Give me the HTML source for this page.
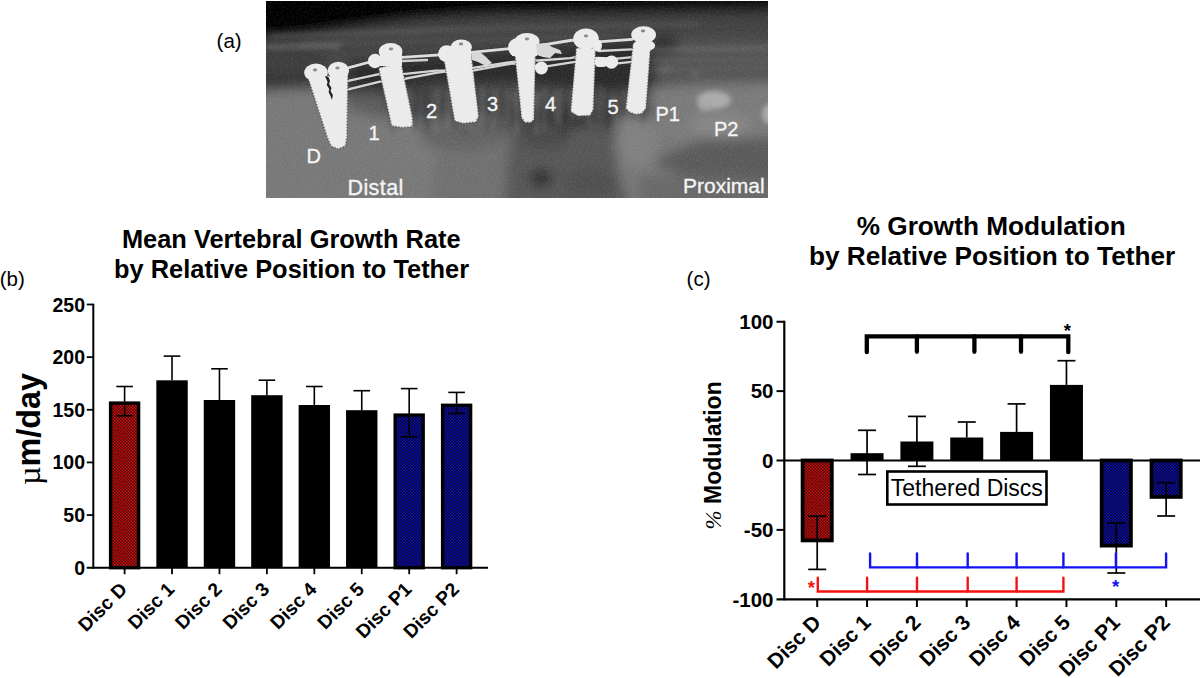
<!DOCTYPE html>
<html><head><meta charset="utf-8"><title>Figure</title>
<style>
html,body{margin:0;padding:0;background:#fff;}
body{width:1200px;height:678px;overflow:hidden;position:relative;font-family:"Liberation Sans", sans-serif;}
svg{position:absolute;left:0;top:0;}
text{font-family:"Liberation Sans", sans-serif;}
</style></head><body>
<svg width="1200" height="678" viewBox="0 0 1200 678">
<defs>
<pattern id="patR" width="3" height="3" patternUnits="userSpaceOnUse"><rect width="3" height="3" fill="rgb(70,4,4)"/><rect width="1.5" height="1.5" fill="rgb(205,18,18)"/><rect x="1.5" y="1.5" width="1.5" height="1.5" fill="rgb(205,18,18)"/></pattern>
<pattern id="patB" width="3" height="3" patternUnits="userSpaceOnUse"><rect width="3" height="3" fill="rgb(2,2,28)"/><rect width="1.5" height="1.5" fill="rgb(16,16,195)"/><rect x="1.5" y="1.5" width="1.5" height="1.5" fill="rgb(16,16,195)"/></pattern>
</defs>

<clipPath id="xclip"><rect x="266" y="1" width="502" height="197"/></clipPath>
<filter id="xb1" x="-10%" y="-10%" width="120%" height="120%"><feGaussianBlur stdDeviation="6"/></filter>
<filter id="xb2" x="-20%" y="-20%" width="140%" height="140%"><feGaussianBlur stdDeviation="2.5"/></filter>
<filter id="xb0" x="-20%" y="-20%" width="140%" height="140%"><feGaussianBlur stdDeviation="0.5"/></filter>
<filter id="xn" x="0" y="0" width="100%" height="100%"><feTurbulence type="fractalNoise" baseFrequency="0.6" numOctaves="2" seed="3" result="n"/><feColorMatrix type="matrix" values="0 0 0 0 1  0 0 0 0 1  0 0 0 0 1  1 0 0 0 -0.45"/></filter>
<g clip-path="url(#xclip)">
<rect x="266" y="1" width="502" height="197" fill="rgb(118,118,118)"/>
<g filter="url(#xb1)">
<polygon points="240,-20 800,-20 800,72 760,72 700,80 660,86 650,120 600,122 560,128 500,124 440,122 420,120 400,110 350,100 310,90 240,90" fill="rgb(68,68,68)" opacity="1"/>
<polygon points="240,26 330,24 420,18 500,16 600,14 700,14 800,14 800,50 700,48 600,40 500,38 420,44 350,50 300,50 240,52" fill="rgb(66,66,66)" opacity="1"/>
<polygon points="348,62 640,40 660,60 655,88 600,92 520,84 440,84 380,92 348,92" fill="rgb(42,42,42)" opacity="1"/>
<polygon points="380,92 440,84 520,84 600,92 655,88 655,120 600,126 560,130 500,126 445,124 420,122 395,112" fill="rgb(74,74,74)" opacity="1"/>
<ellipse cx="605" cy="108" rx="22" ry="14" fill="rgb(56,56,56)" opacity="1"/>
<polygon points="500,100 560,98 630,100 632,125 600,136 550,140 505,136" fill="rgb(66,66,66)" opacity="1"/>
<ellipse cx="590" cy="118" rx="26" ry="12" fill="rgb(55,55,55)" opacity="1"/>
<polygon points="525,112 620,110 625,132 580,138 530,134" fill="rgb(52,52,52)" opacity="1"/>
<polygon points="240,-20 800,-20 800,14 700,14 600,16 500,16 420,20 350,28 300,35 240,38" fill="rgb(36,36,36)" opacity="1"/>
<polygon points="240,-20 800,-20 800,5 700,7 600,9 480,12 400,19 340,29 300,35 240,39" fill="rgb(3,3,3)" opacity="1"/>
<polygon points="240,44 300,44 330,55 312,88 240,92" fill="rgb(60,60,60)" opacity="1"/>
<polygon points="240,74 310,74 312,92 240,94" fill="rgb(52,52,52)" opacity="1"/>
<polygon points="348,92 380,92 392,115 390,128 350,128" fill="rgb(92,92,92)" opacity="1"/>
<polygon points="240,92 312,88 345,110 400,122 440,126 500,128 510,160 500,210 240,210" fill="rgb(120,120,120)" opacity="1"/>
<polygon points="440,126 510,130 515,210 430,210" fill="rgb(112,112,112)" opacity="1"/>
<polygon points="415,118 500,116 508,142 470,150 425,146" fill="rgb(100,100,100)" opacity="1"/>
<polygon points="512,126 570,128 615,128 625,150 615,165 630,210 505,210 508,160" fill="rgb(86,86,86)" opacity="1"/>
<ellipse cx="545" cy="136" rx="26" ry="13" fill="rgb(74,74,74)" opacity="1"/>
<ellipse cx="541" cy="178" rx="11" ry="9" fill="rgb(42,42,42)" opacity="1"/>
<ellipse cx="590" cy="182" rx="28" ry="14" fill="rgb(80,80,80)" opacity="1"/>
<polygon points="618,118 650,118 660,140 650,170 625,165 615,150" fill="rgb(128,128,128)" opacity="1"/>
<polygon points="655,40 800,40 800,82 700,84 655,88" fill="rgb(82,82,82)" opacity="1"/>
<polygon points="650,88 700,84 800,82 800,140 760,140 700,140 655,140" fill="rgb(122,122,122)" opacity="1"/>
<ellipse cx="720" cy="125" rx="30" ry="12" fill="rgb(134,134,134)" opacity="1"/>
<ellipse cx="664" cy="44" rx="14" ry="11" fill="rgb(50,50,50)" opacity="1"/>
<polygon points="652,162 700,140 800,136 800,180 740,180 690,178" fill="rgb(90,90,90)" opacity="1"/>
<polygon points="640,176 690,176 800,178 800,210 640,210" fill="rgb(104,104,104)" opacity="1"/>
</g>
<g filter="url(#xb2)">
<ellipse cx="714" cy="100" rx="17" ry="9" fill="rgb(172,172,172)" opacity="1"/>
<ellipse cx="706" cy="106" rx="8" ry="5" fill="rgb(165,165,165)" opacity="1"/>
<ellipse cx="770" cy="114" rx="8" ry="10" fill="rgb(170,170,170)" opacity="1"/>
<ellipse cx="666" cy="70" rx="6" ry="5" fill="rgb(100,100,100)" opacity="0.6"/>
<ellipse cx="695" cy="74" rx="5" ry="4" fill="rgb(105,105,105)" opacity="0.6"/>
</g>
<g filter="url(#xb2)" opacity="0.6">
<line x1="270" y1="36" x2="520" y2="28" stroke="rgb(110,110,110)" stroke-width="3"/>
<line x1="300" y1="44" x2="620" y2="36" stroke="rgb(100,100,100)" stroke-width="2"/>
<line x1="420" y1="30" x2="700" y2="24" stroke="rgb(95,95,95)" stroke-width="3"/>
<line x1="266" y1="47" x2="340" y2="46" stroke="rgb(125,125,125)" stroke-width="4"/>
<line x1="640" y1="50" x2="768" y2="48" stroke="rgb(120,120,120)" stroke-width="3"/>
<line x1="640" y1="60" x2="768" y2="60" stroke="rgb(110,110,110)" stroke-width="2"/>
<line x1="640" y1="70" x2="768" y2="68" stroke="rgb(115,115,115)" stroke-width="2"/>
</g>
<g filter="url(#xb2)" opacity="0.5">
<line x1="390.5" y1="92.4" x2="392.5" y2="131.9" stroke="rgb(40,40,40)" stroke-width="2"/>
<line x1="397.6" y1="87.5" x2="395.3" y2="120.8" stroke="rgb(40,40,40)" stroke-width="2"/>
<line x1="402.9" y1="87.5" x2="400.0" y2="128.2" stroke="rgb(40,40,40)" stroke-width="2"/>
<line x1="408.4" y1="87.8" x2="406.3" y2="133.7" stroke="rgb(140,140,140)" stroke-width="2"/>
<line x1="417.2" y1="86.4" x2="415.0" y2="129.3" stroke="rgb(40,40,40)" stroke-width="2"/>
<line x1="424.4" y1="85.1" x2="426.6" y2="131.6" stroke="rgb(40,40,40)" stroke-width="2"/>
<line x1="428.2" y1="94.6" x2="426.2" y2="128.1" stroke="rgb(40,40,40)" stroke-width="2"/>
<line x1="437.4" y1="87.0" x2="436.2" y2="134.5" stroke="rgb(140,140,140)" stroke-width="2"/>
<line x1="441.4" y1="86.7" x2="440.4" y2="122.2" stroke="rgb(40,40,40)" stroke-width="2"/>
<line x1="449.8" y1="90.9" x2="447.2" y2="128.9" stroke="rgb(140,140,140)" stroke-width="2"/>
<line x1="454.4" y1="88.1" x2="454.3" y2="130.4" stroke="rgb(40,40,40)" stroke-width="2"/>
<line x1="462.3" y1="85.6" x2="465.0" y2="134.6" stroke="rgb(40,40,40)" stroke-width="2"/>
<line x1="467.4" y1="89.0" x2="466.6" y2="128.2" stroke="rgb(140,140,140)" stroke-width="2"/>
<line x1="474.8" y1="85.1" x2="475.6" y2="120.7" stroke="rgb(40,40,40)" stroke-width="2"/>
<line x1="482.8" y1="86.2" x2="481.9" y2="123.7" stroke="rgb(140,140,140)" stroke-width="2"/>
<line x1="486.9" y1="90.2" x2="487.5" y2="131.6" stroke="rgb(40,40,40)" stroke-width="2"/>
<line x1="495.1" y1="88.7" x2="497.8" y2="124.4" stroke="rgb(140,140,140)" stroke-width="2"/>
<line x1="498.9" y1="88.4" x2="497.9" y2="129.2" stroke="rgb(40,40,40)" stroke-width="2"/>
<line x1="508.7" y1="90.5" x2="507.5" y2="124.7" stroke="rgb(140,140,140)" stroke-width="2"/>
<line x1="514.7" y1="91.3" x2="517.7" y2="130.8" stroke="rgb(140,140,140)" stroke-width="2"/>
<line x1="518.6" y1="85.5" x2="515.8" y2="134.8" stroke="rgb(140,140,140)" stroke-width="2"/>
<line x1="527.5" y1="88.4" x2="525.3" y2="123.8" stroke="rgb(140,140,140)" stroke-width="2"/>
<line x1="534.9" y1="91.4" x2="536.9" y2="132.0" stroke="rgb(140,140,140)" stroke-width="2"/>
<line x1="538.0" y1="92.3" x2="535.7" y2="134.2" stroke="rgb(140,140,140)" stroke-width="2"/>
<line x1="545.7" y1="86.5" x2="543.6" y2="132.7" stroke="rgb(140,140,140)" stroke-width="2"/>
<line x1="554.2" y1="91.2" x2="556.9" y2="122.5" stroke="rgb(140,140,140)" stroke-width="2"/>
<line x1="559.8" y1="88.2" x2="559.2" y2="124.1" stroke="rgb(140,140,140)" stroke-width="2"/>
<line x1="564.1" y1="88.8" x2="564.8" y2="134.8" stroke="rgb(40,40,40)" stroke-width="2"/>
<line x1="572.0" y1="88.4" x2="572.1" y2="121.3" stroke="rgb(140,140,140)" stroke-width="2"/>
<line x1="578.7" y1="90.0" x2="579.9" y2="120.9" stroke="rgb(140,140,140)" stroke-width="2"/>
<line x1="585.7" y1="92.6" x2="587.7" y2="125.5" stroke="rgb(140,140,140)" stroke-width="2"/>
<line x1="590.6" y1="94.8" x2="591.5" y2="130.7" stroke="rgb(140,140,140)" stroke-width="2"/>
<line x1="598.3" y1="85.1" x2="597.3" y2="128.2" stroke="rgb(140,140,140)" stroke-width="2"/>
<line x1="603.6" y1="87.9" x2="602.7" y2="127.5" stroke="rgb(140,140,140)" stroke-width="2"/>
<line x1="611.6" y1="92.4" x2="614.1" y2="132.4" stroke="rgb(140,140,140)" stroke-width="2"/>
<line x1="616.2" y1="93.7" x2="618.9" y2="126.7" stroke="rgb(140,140,140)" stroke-width="2"/>
<line x1="624.1" y1="90.3" x2="626.7" y2="122.5" stroke="rgb(140,140,140)" stroke-width="2"/>
<line x1="630.4" y1="91.9" x2="628.4" y2="130.8" stroke="rgb(140,140,140)" stroke-width="2"/>
<line x1="638.1" y1="90.8" x2="636.9" y2="130.0" stroke="rgb(140,140,140)" stroke-width="2"/>
<line x1="643.7" y1="93.7" x2="641.9" y2="124.1" stroke="rgb(40,40,40)" stroke-width="2"/>
</g>
<path d="M349,67.7 L368,62.5 L402,57.4 L436,55.2 L471,52.3 L509.7,48.6 L539,45.7 L570,40.5 L574,40.1 L601,41.7 L632,39.4" stroke="#dedede" stroke-width="2.8" fill="none" stroke-linecap="round" stroke-linejoin="round"/>
<path d="M344.7,81.7 L377.9,74.3 L400.7,74.3 L436,70.7 L444.8,70.7 L472.8,70.7 L512.6,63.4 L546.5,66.3 L570,62.6 L575.5,61.8 L617.3,63.4 L632,61.8" stroke="#d4d4d4" stroke-width="2.3" fill="none" stroke-linecap="round" stroke-linejoin="round"/>
<path d="M346.2,89.8 L380,81.7 L400.7,79.5 L436,72.9 L472.8,67.8 L512.6,61.9 L546,60 L570,58.2 L575.5,57.2 L617.3,58.7 L632,57.2" stroke="#d4d4d4" stroke-width="2.3" fill="none" stroke-linecap="round" stroke-linejoin="round"/>
<path d="M598.7,51 L632,49.4" stroke="#d4d4d4" stroke-width="2.3" fill="none" stroke-linecap="round" stroke-linejoin="round"/>
<path d="M402,61 L427,60" stroke="#cfcfcf" stroke-width="2.5" fill="none" stroke-linecap="round" stroke-linejoin="round"/>
<g filter="url(#xb0)">
<polygon points="308,78 327,76 348,74 347,137 345.4,146 338,149 331,146 327.5,138" fill="#ebebeb"/>
<polygon points="308,78 327,76 348,74 347,137 345.4,146 338,149 331,146 327.5,138" fill="none" stroke="rgb(70,70,70)" stroke-opacity="0.6" stroke-width="1.8" stroke-dasharray="1.4 1.6"/>
<ellipse cx="316" cy="72.5" rx="11.8" ry="9" fill="#ebebeb"/>
<ellipse cx="338.4" cy="70.6" rx="10.7" ry="8.9" fill="#ebebeb"/>
<path d="M325 76 L328.5 77 L330 81 L329 84 L331.5 88 L330.5 91 L332.8 95 L332 100 L330.5 96 L328.6 92 L329.3 89 L326.8 85 L327.6 82 Z" fill="#1e1e1e"/>
<polygon points="378.6,68 401,62 412.5,118 412.5,126.7 402,127.5 392,126 391.1,123.8" fill="#ebebeb"/>
<polygon points="378.6,68 401,62 412.5,118 412.5,126.7 402,127.5 392,126 391.1,123.8" fill="none" stroke="rgb(70,70,70)" stroke-opacity="0.6" stroke-width="1.8" stroke-dasharray="1.4 1.6"/>
<ellipse cx="390.6" cy="51.5" rx="11.8" ry="8.5" fill="#ebebeb"/>
<circle cx="375" cy="61" r="7.2" fill="#ebebeb"/>
<rect x="380" y="52" width="22" height="14" fill="#ebebeb"/>
<polygon points="444,60 471.3,54.5 478.7,116.5 476,122 463,123.5 455,121 454.3,119.4" fill="#ebebeb"/>
<polygon points="444,60 471.3,54.5 478.7,116.5 476,122 463,123.5 455,121 454.3,119.4" fill="none" stroke="rgb(70,70,70)" stroke-opacity="0.6" stroke-width="1.8" stroke-dasharray="1.4 1.6"/>
<ellipse cx="461.3" cy="47" rx="10.7" ry="7.6" fill="#ebebeb"/>
<circle cx="446.6" cy="53.8" r="8.5" fill="#ebebeb"/>
<rect x="446" y="46" width="25" height="14" fill="#ebebeb"/>
<path d="M471 53 L480 52 L486 57 L492 63 L486 66 L478 62 L472 60 Z" fill="#d8d8d8"/>
<polygon points="514.8,54 535.5,54 534,119.4 531,122.5 525,122.5 521.5,118" fill="#ebebeb"/>
<polygon points="514.8,54 535.5,54 534,119.4 531,122.5 525,122.5 521.5,118" fill="none" stroke="rgb(70,70,70)" stroke-opacity="0.6" stroke-width="1.8" stroke-dasharray="1.4 1.6"/>
<ellipse cx="527" cy="41.5" rx="12.5" ry="8.5" fill="#ebebeb"/>
<circle cx="517.5" cy="47.5" r="9.5" fill="#ebebeb"/>
<rect x="512" y="42" width="25" height="14" fill="#ebebeb"/>
<circle cx="541.4" cy="68" r="6.5" fill="#ebebeb"/>
<path d="M536 44 L546 43 L552 47 L560 50 L562 54 L555 53 L550 58 L543 57 L537 55 Z" fill="#d8d8d8"/>
<polygon points="576.3,48 595.6,48 593.3,109.8 590,115.5 578,116 571,112 570.8,109.8" fill="#ebebeb"/>
<polygon points="576.3,48 595.6,48 593.3,109.8 590,115.5 578,116 571,112 570.8,109.8" fill="none" stroke="rgb(70,70,70)" stroke-opacity="0.6" stroke-width="1.8" stroke-dasharray="1.4 1.6"/>
<ellipse cx="586" cy="39" rx="12.8" ry="10.5" fill="#ebebeb"/>
<ellipse cx="597.5" cy="45.5" rx="4.5" ry="6" fill="#ebebeb"/>
<circle cx="611.5" cy="62.2" r="6.6" fill="#ebebeb"/>
<rect x="595" y="57" width="12" height="10" rx="4" fill="#ebebeb"/>
<polygon points="632.8,46 650.6,46 646,108.3 642,113.5 635.9,114.5 629,112 625.8,108.3" fill="#ebebeb"/>
<polygon points="632.8,46 650.6,46 646,108.3 642,113.5 635.9,114.5 629,112 625.8,108.3" fill="none" stroke="rgb(70,70,70)" stroke-opacity="0.6" stroke-width="1.8" stroke-dasharray="1.4 1.6"/>
<ellipse cx="643.6" cy="34.7" rx="12.4" ry="8.5" fill="#ebebeb"/>
<ellipse cx="644" cy="45.5" rx="11.2" ry="6" fill="#ebebeb"/>
</g>
<rect x="266" y="1" width="502" height="197" filter="url(#xn)" opacity="0.22"/>
<ellipse cx="315" cy="70" rx="2.2" ry="1.4" fill="#8a8a8a"/>
<ellipse cx="337.5" cy="68" rx="2.2" ry="1.4" fill="#8a8a8a"/>
<ellipse cx="391" cy="49" rx="2.2" ry="1.4" fill="#8a8a8a"/>
<ellipse cx="461" cy="44" rx="2.2" ry="1.4" fill="#8a8a8a"/>
<ellipse cx="527" cy="39" rx="2.2" ry="1.4" fill="#8a8a8a"/>
<ellipse cx="586" cy="36" rx="2.2" ry="1.4" fill="#8a8a8a"/>
<ellipse cx="643" cy="31" rx="2.2" ry="1.4" fill="#8a8a8a"/>
</g>
<text x="306.5" y="163" font-size="20" fill="#f4f4f4" stroke="#f4f4f4" stroke-width="0.35" letter-spacing="0">D</text>
<text x="368.5" y="139.7" font-size="20" fill="#f4f4f4" stroke="#f4f4f4" stroke-width="0.35" letter-spacing="0">1</text>
<text x="426" y="117.5" font-size="20" fill="#f4f4f4" stroke="#f4f4f4" stroke-width="0.35" letter-spacing="0">2</text>
<text x="487" y="110.8" font-size="20" fill="#f4f4f4" stroke="#f4f4f4" stroke-width="0.35" letter-spacing="0">3</text>
<text x="545" y="110.8" font-size="20" fill="#f4f4f4" stroke="#f4f4f4" stroke-width="0.35" letter-spacing="0">4</text>
<text x="607.5" y="114" font-size="20" fill="#f4f4f4" stroke="#f4f4f4" stroke-width="0.35" letter-spacing="0">5</text>
<text x="655.5" y="120.8" font-size="20" fill="#f4f4f4" stroke="#f4f4f4" stroke-width="0.35" letter-spacing="0">P1</text>
<text x="714" y="135.7" font-size="20" fill="#f4f4f4" stroke="#f4f4f4" stroke-width="0.35" letter-spacing="0">P2</text>
<text x="347.5" y="194.8" font-size="21.5" fill="#f4f4f4" stroke="#f4f4f4" stroke-width="0.35" letter-spacing="0.4">Distal</text>
<text x="683" y="193.3" font-size="21" fill="#f4f4f4" stroke="#f4f4f4" stroke-width="0.35" letter-spacing="0">Proximal</text>
<text x="216.6" y="48" font-size="20.5" fill="#000">(a)</text>
<text x="-0.3" y="285.7" font-size="20.5" fill="#000">(b)</text>
<text x="686.6" y="285.5" font-size="20.5" fill="#000">(c)</text>
<text x="291.3" y="248" font-size="25.4" font-weight="bold" text-anchor="middle">Mean Vertebral Growth Rate</text>
<text x="291.6" y="278" font-size="25.4" font-weight="bold" text-anchor="middle">by Relative Position to Tether</text>
<rect x="110.60" y="403.10" width="28.00" height="164.60" fill="url(#patR)" stroke="#000" stroke-width="3.4"/>
<line x1="124.60" y1="386.50" x2="124.60" y2="401.40" stroke="#000" stroke-width="1.6"/>
<line x1="116.30" y1="386.50" x2="132.90" y2="386.50" stroke="#000" stroke-width="1.6"/>
<line x1="124.60" y1="401.40" x2="124.60" y2="415.80" stroke="#000" stroke-width="1.6"/>
<line x1="116.30" y1="415.80" x2="132.90" y2="415.80" stroke="#000" stroke-width="1.6"/>
<rect x="156.33" y="380.30" width="31.40" height="187.40" fill="#000"/>
<line x1="172.03" y1="356.10" x2="172.03" y2="380.30" stroke="#000" stroke-width="1.6"/>
<line x1="163.73" y1="356.10" x2="180.33" y2="356.10" stroke="#000" stroke-width="1.6"/>
<rect x="203.76" y="400.00" width="31.40" height="167.70" fill="#000"/>
<line x1="219.46" y1="368.80" x2="219.46" y2="400.00" stroke="#000" stroke-width="1.6"/>
<line x1="211.16" y1="368.80" x2="227.76" y2="368.80" stroke="#000" stroke-width="1.6"/>
<rect x="251.19" y="395.20" width="31.40" height="172.50" fill="#000"/>
<line x1="266.89" y1="380.20" x2="266.89" y2="395.20" stroke="#000" stroke-width="1.6"/>
<line x1="258.59" y1="380.20" x2="275.19" y2="380.20" stroke="#000" stroke-width="1.6"/>
<rect x="298.62" y="405.00" width="31.40" height="162.70" fill="#000"/>
<line x1="314.32" y1="386.50" x2="314.32" y2="405.00" stroke="#000" stroke-width="1.6"/>
<line x1="306.02" y1="386.50" x2="322.62" y2="386.50" stroke="#000" stroke-width="1.6"/>
<rect x="346.05" y="410.20" width="31.40" height="157.50" fill="#000"/>
<line x1="361.75" y1="390.70" x2="361.75" y2="410.20" stroke="#000" stroke-width="1.6"/>
<line x1="353.45" y1="390.70" x2="370.05" y2="390.70" stroke="#000" stroke-width="1.6"/>
<rect x="395.18" y="415.10" width="28.00" height="152.60" fill="url(#patB)" stroke="#000" stroke-width="3.4"/>
<line x1="409.18" y1="388.60" x2="409.18" y2="413.40" stroke="#000" stroke-width="1.6"/>
<line x1="400.88" y1="388.60" x2="417.48" y2="388.60" stroke="#000" stroke-width="1.6"/>
<line x1="409.18" y1="413.40" x2="409.18" y2="436.80" stroke="#000" stroke-width="1.6"/>
<line x1="400.88" y1="436.80" x2="417.48" y2="436.80" stroke="#000" stroke-width="1.6"/>
<rect x="442.61" y="405.30" width="28.00" height="162.40" fill="url(#patB)" stroke="#000" stroke-width="3.4"/>
<line x1="456.61" y1="392.40" x2="456.61" y2="403.60" stroke="#000" stroke-width="1.6"/>
<line x1="448.31" y1="392.40" x2="464.91" y2="392.40" stroke="#000" stroke-width="1.6"/>
<line x1="456.61" y1="403.60" x2="456.61" y2="413.40" stroke="#000" stroke-width="1.6"/>
<line x1="448.31" y1="413.40" x2="464.91" y2="413.40" stroke="#000" stroke-width="1.6"/>
<line x1="93.3" y1="303.7" x2="93.3" y2="568.7" stroke="#000" stroke-width="2"/>
<line x1="86.8" y1="567.7" x2="488" y2="567.7" stroke="#000" stroke-width="2"/>
<line x1="86.8" y1="304.50" x2="93.3" y2="304.50" stroke="#000" stroke-width="1.8"/>
<line x1="86.8" y1="357.14" x2="93.3" y2="357.14" stroke="#000" stroke-width="1.8"/>
<line x1="86.8" y1="409.78" x2="93.3" y2="409.78" stroke="#000" stroke-width="1.8"/>
<line x1="86.8" y1="462.42" x2="93.3" y2="462.42" stroke="#000" stroke-width="1.8"/>
<line x1="86.8" y1="515.06" x2="93.3" y2="515.06" stroke="#000" stroke-width="1.8"/>
<text x="85" y="311.50" font-size="19.5" font-weight="bold" text-anchor="end">250</text>
<text x="85" y="364.14" font-size="19.5" font-weight="bold" text-anchor="end">200</text>
<text x="85" y="416.78" font-size="19.5" font-weight="bold" text-anchor="end">150</text>
<text x="85" y="469.42" font-size="19.5" font-weight="bold" text-anchor="end">100</text>
<text x="85" y="522.06" font-size="19.5" font-weight="bold" text-anchor="end">50</text>
<text x="85" y="574.70" font-size="19.5" font-weight="bold" text-anchor="end">0</text>
<line x1="124.60" y1="567.7" x2="124.60" y2="574.2" stroke="#000" stroke-width="1.8"/>
<line x1="172.03" y1="567.7" x2="172.03" y2="574.2" stroke="#000" stroke-width="1.8"/>
<line x1="219.46" y1="567.7" x2="219.46" y2="574.2" stroke="#000" stroke-width="1.8"/>
<line x1="266.89" y1="567.7" x2="266.89" y2="574.2" stroke="#000" stroke-width="1.8"/>
<line x1="314.32" y1="567.7" x2="314.32" y2="574.2" stroke="#000" stroke-width="1.8"/>
<line x1="361.75" y1="567.7" x2="361.75" y2="574.2" stroke="#000" stroke-width="1.8"/>
<line x1="409.18" y1="567.7" x2="409.18" y2="574.2" stroke="#000" stroke-width="1.8"/>
<line x1="456.61" y1="567.7" x2="456.61" y2="574.2" stroke="#000" stroke-width="1.8"/>
<text transform="translate(128.20,590.50) rotate(-45)" font-size="19.2" font-weight="bold" text-anchor="end">Disc D</text>
<text transform="translate(175.63,590.50) rotate(-45)" font-size="19.2" font-weight="bold" text-anchor="end">Disc 1</text>
<text transform="translate(223.06,590.50) rotate(-45)" font-size="19.2" font-weight="bold" text-anchor="end">Disc 2</text>
<text transform="translate(270.49,590.50) rotate(-45)" font-size="19.2" font-weight="bold" text-anchor="end">Disc 3</text>
<text transform="translate(317.92,590.50) rotate(-45)" font-size="19.2" font-weight="bold" text-anchor="end">Disc 4</text>
<text transform="translate(365.35,590.50) rotate(-45)" font-size="19.2" font-weight="bold" text-anchor="end">Disc 5</text>
<text transform="translate(412.78,590.50) rotate(-45)" font-size="19.2" font-weight="bold" text-anchor="end">Disc P1</text>
<text transform="translate(460.21,590.50) rotate(-45)" font-size="19.2" font-weight="bold" text-anchor="end">Disc P2</text>
<text transform="translate(40,485) rotate(-90)" font-size="32.3" font-weight="bold"><tspan font-family="Liberation Serif" font-weight="normal">&#181;</tspan>m/day</text>
<text x="991.3" y="235" font-size="26.2" font-weight="bold" text-anchor="middle">% Growth Modulation</text>
<text x="992.1" y="265" font-size="26.2" font-weight="bold" text-anchor="middle">by Relative Position to Tether</text>
<rect x="802.60" y="460.50" width="29.20" height="79.90" fill="url(#patR)" stroke="#000" stroke-width="3.8"/>
<line x1="817.20" y1="516.20" x2="817.20" y2="569.40" stroke="#000" stroke-width="1.7"/>
<line x1="808.20" y1="516.20" x2="826.20" y2="516.20" stroke="#000" stroke-width="1.7"/>
<line x1="808.20" y1="569.40" x2="826.20" y2="569.40" stroke="#000" stroke-width="1.7"/>
<rect x="850.55" y="453.20" width="33.00" height="7.30" fill="#000"/>
<line x1="867.05" y1="430.30" x2="867.05" y2="474.50" stroke="#000" stroke-width="1.7"/>
<line x1="858.05" y1="430.30" x2="876.05" y2="430.30" stroke="#000" stroke-width="1.7"/>
<line x1="858.05" y1="474.50" x2="876.05" y2="474.50" stroke="#000" stroke-width="1.7"/>
<rect x="900.40" y="441.50" width="33.00" height="19.00" fill="#000"/>
<line x1="916.90" y1="416.40" x2="916.90" y2="466.30" stroke="#000" stroke-width="1.7"/>
<line x1="907.90" y1="416.40" x2="925.90" y2="416.40" stroke="#000" stroke-width="1.7"/>
<line x1="907.90" y1="466.30" x2="925.90" y2="466.30" stroke="#000" stroke-width="1.7"/>
<rect x="950.25" y="437.50" width="33.00" height="23.00" fill="#000"/>
<line x1="966.75" y1="422.00" x2="966.75" y2="437.50" stroke="#000" stroke-width="1.7"/>
<line x1="957.75" y1="422.00" x2="975.75" y2="422.00" stroke="#000" stroke-width="1.7"/>
<rect x="1000.10" y="431.90" width="33.00" height="28.60" fill="#000"/>
<line x1="1016.60" y1="403.90" x2="1016.60" y2="431.90" stroke="#000" stroke-width="1.7"/>
<line x1="1007.60" y1="403.90" x2="1025.60" y2="403.90" stroke="#000" stroke-width="1.7"/>
<rect x="1049.95" y="384.90" width="33.00" height="75.60" fill="#000"/>
<line x1="1066.45" y1="360.70" x2="1066.45" y2="384.90" stroke="#000" stroke-width="1.7"/>
<line x1="1057.45" y1="360.70" x2="1075.45" y2="360.70" stroke="#000" stroke-width="1.7"/>
<rect x="1101.70" y="460.50" width="29.20" height="85.10" fill="url(#patB)" stroke="#000" stroke-width="3.8"/>
<line x1="1116.30" y1="523.00" x2="1116.30" y2="573.00" stroke="#000" stroke-width="1.7"/>
<line x1="1107.30" y1="523.00" x2="1125.30" y2="523.00" stroke="#000" stroke-width="1.7"/>
<line x1="1107.30" y1="573.00" x2="1125.30" y2="573.00" stroke="#000" stroke-width="1.7"/>
<rect x="1151.55" y="460.50" width="29.20" height="36.40" fill="url(#patB)" stroke="#000" stroke-width="3.8"/>
<line x1="1166.15" y1="482.70" x2="1166.15" y2="516.00" stroke="#000" stroke-width="1.7"/>
<line x1="1157.15" y1="482.70" x2="1175.15" y2="482.70" stroke="#000" stroke-width="1.7"/>
<line x1="1157.15" y1="516.00" x2="1175.15" y2="516.00" stroke="#000" stroke-width="1.7"/>
<line x1="784.3" y1="320.8" x2="784.3" y2="600.3" stroke="#000" stroke-width="2.2"/>
<line x1="784.3" y1="460.5" x2="1200" y2="460.5" stroke="#000" stroke-width="2.2"/>
<line x1="776.5" y1="599.3" x2="1200" y2="599.3" stroke="#000" stroke-width="2.2"/>
<line x1="776.5" y1="321.75" x2="784.3" y2="321.75" stroke="#000" stroke-width="2"/>
<line x1="776.5" y1="391.12" x2="784.3" y2="391.12" stroke="#000" stroke-width="2"/>
<line x1="776.5" y1="460.50" x2="784.3" y2="460.50" stroke="#000" stroke-width="2"/>
<line x1="776.5" y1="529.88" x2="784.3" y2="529.88" stroke="#000" stroke-width="2"/>
<text x="773.5" y="329.05" font-size="20.5" font-weight="bold" text-anchor="end">100</text>
<text x="773.5" y="398.43" font-size="20.5" font-weight="bold" text-anchor="end">50</text>
<text x="773.5" y="467.80" font-size="20.5" font-weight="bold" text-anchor="end">0</text>
<text x="773.5" y="537.17" font-size="20.5" font-weight="bold" text-anchor="end">-50</text>
<text x="773.5" y="606.55" font-size="20.5" font-weight="bold" text-anchor="end">-100</text>
<line x1="817.20" y1="599.3" x2="817.20" y2="607" stroke="#000" stroke-width="2"/>
<line x1="867.05" y1="599.3" x2="867.05" y2="607" stroke="#000" stroke-width="2"/>
<line x1="916.90" y1="599.3" x2="916.90" y2="607" stroke="#000" stroke-width="2"/>
<line x1="966.75" y1="599.3" x2="966.75" y2="607" stroke="#000" stroke-width="2"/>
<line x1="1016.60" y1="599.3" x2="1016.60" y2="607" stroke="#000" stroke-width="2"/>
<line x1="1066.45" y1="599.3" x2="1066.45" y2="607" stroke="#000" stroke-width="2"/>
<line x1="1116.30" y1="599.3" x2="1116.30" y2="607" stroke="#000" stroke-width="2"/>
<line x1="1166.15" y1="599.3" x2="1166.15" y2="607" stroke="#000" stroke-width="2"/>
<text transform="translate(822.20,623.80) rotate(-45)" font-size="21" font-weight="bold" text-anchor="end">Disc D</text>
<text transform="translate(872.05,623.80) rotate(-45)" font-size="21" font-weight="bold" text-anchor="end">Disc 1</text>
<text transform="translate(921.90,623.80) rotate(-45)" font-size="21" font-weight="bold" text-anchor="end">Disc 2</text>
<text transform="translate(971.75,623.80) rotate(-45)" font-size="21" font-weight="bold" text-anchor="end">Disc 3</text>
<text transform="translate(1021.60,623.80) rotate(-45)" font-size="21" font-weight="bold" text-anchor="end">Disc 4</text>
<text transform="translate(1071.45,623.80) rotate(-45)" font-size="21" font-weight="bold" text-anchor="end">Disc 5</text>
<text transform="translate(1121.30,623.80) rotate(-45)" font-size="21" font-weight="bold" text-anchor="end">Disc P1</text>
<text transform="translate(1171.15,623.80) rotate(-45)" font-size="21" font-weight="bold" text-anchor="end">Disc P2</text>
<text transform="translate(721,529.5) rotate(-90)" font-size="23" font-weight="bold"><tspan font-family="Liberation Serif" font-weight="normal" font-style="italic">%</tspan> Modulation</text>
<path d="M866.8 352.2 L866.8 336.3 L1068.3 336.3 L1068.3 352.2" fill="none" stroke="#000" stroke-width="4.3" stroke-linecap="round" stroke-linejoin="miter"/>
<line x1="916.9" y1="336.3" x2="916.9" y2="351.8" stroke="#000" stroke-width="4.3" stroke-linecap="round"/>
<line x1="974.4" y1="336.3" x2="974.4" y2="351.8" stroke="#000" stroke-width="4.3" stroke-linecap="round"/>
<line x1="1021.0" y1="336.3" x2="1021.0" y2="351.8" stroke="#000" stroke-width="4.3" stroke-linecap="round"/>
<text x="1067.3" y="336.9" font-size="18.5" font-weight="bold" text-anchor="middle">*</text>
<path d="M870.1 553.5 L870.1 567.4 L1166.1 567.4 L1166.1 553.5" fill="none" stroke="#1212f4" stroke-width="2.4" stroke-linecap="round"/>
<line x1="917.0" y1="553.5" x2="917.0" y2="567.4" stroke="#1212f4" stroke-width="2.4" stroke-linecap="round"/>
<line x1="967.7" y1="553.5" x2="967.7" y2="567.4" stroke="#1212f4" stroke-width="2.4" stroke-linecap="round"/>
<line x1="1016.6" y1="553.5" x2="1016.6" y2="567.4" stroke="#1212f4" stroke-width="2.4" stroke-linecap="round"/>
<line x1="1063.4" y1="553.5" x2="1063.4" y2="567.4" stroke="#1212f4" stroke-width="2.4" stroke-linecap="round"/>
<line x1="1115.9" y1="553.5" x2="1115.9" y2="567.4" stroke="#1212f4" stroke-width="2.4" stroke-linecap="round"/>
<text x="1115.6" y="592.7" font-size="18.5" font-weight="bold" text-anchor="middle" fill="#1212f4">*</text>
<path d="M817.8 577.8 L817.8 591.5 L1063.4 591.5 L1063.4 577.8" fill="none" stroke="#f41212" stroke-width="2.4" stroke-linecap="round"/>
<line x1="867.1" y1="577.8" x2="867.1" y2="591.5" stroke="#f41212" stroke-width="2.4" stroke-linecap="round"/>
<line x1="917.0" y1="577.8" x2="917.0" y2="591.5" stroke="#f41212" stroke-width="2.4" stroke-linecap="round"/>
<line x1="967.7" y1="577.8" x2="967.7" y2="591.5" stroke="#f41212" stroke-width="2.4" stroke-linecap="round"/>
<line x1="1016.6" y1="577.8" x2="1016.6" y2="591.5" stroke="#f41212" stroke-width="2.4" stroke-linecap="round"/>
<text x="811.4" y="593.5" font-size="18.5" font-weight="bold" text-anchor="middle" fill="#f41212">*</text>
<rect x="887.3" y="471.5" width="159.2" height="33" fill="#fff" stroke="#000" stroke-width="2.6"/>
<text x="966.8" y="495.7" font-size="23" text-anchor="middle">Tethered Discs</text>
</svg></body></html>
